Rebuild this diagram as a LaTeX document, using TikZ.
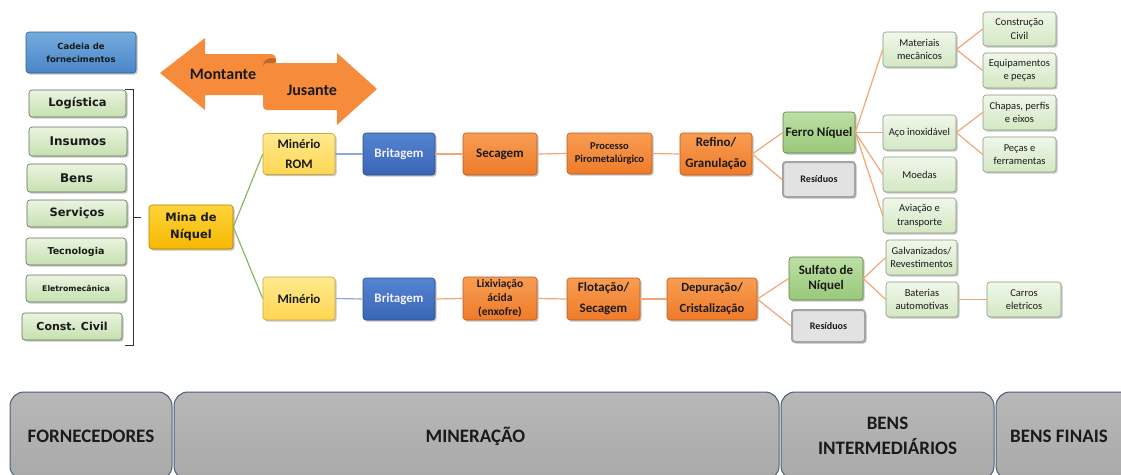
\documentclass[tikz,border=0pt]{standalone}
\usepackage{fontspec}
\setmainfont{Carlito}
\newfontfamily\vfont{DejaVu Sans}
\usetikzlibrary{shadows}

\definecolor{supT}{HTML}{EAF4E0}\definecolor{supB}{HTML}{C6E0B0}\definecolor{supD}{HTML}{5F6F58}
\definecolor{cadT}{HTML}{74ACDF}\definecolor{cadB}{HTML}{4A86C8}\definecolor{cadD}{HTML}{2F5D8C}
\definecolor{minT}{HTML}{FFD43A}\definecolor{minB}{HTML}{F5B800}\definecolor{minD}{HTML}{B08000}
\definecolor{ylT}{HTML}{FFE98E}\definecolor{ylB}{HTML}{FFD652}\definecolor{ylD}{HTML}{C8A840}
\definecolor{blT}{HTML}{5484D2}\definecolor{blB}{HTML}{3A65B6}\definecolor{blD}{HTML}{2A4A88}
\definecolor{orT}{HTML}{F99D52}\definecolor{orB}{HTML}{EE7B2A}\definecolor{orD}{HTML}{B85A1C}
\definecolor{gnT}{HTML}{BDE0A4}\definecolor{gnB}{HTML}{98C87A}\definecolor{gnD}{HTML}{5E7E48}
\definecolor{lgT}{HTML}{F0F7EA}\definecolor{lgB}{HTML}{D3E8C3}\definecolor{lgD}{HTML}{8A9A80}
\definecolor{rsF}{HTML}{E2E2E2}\definecolor{rsD}{HTML}{A4A4A4}
\definecolor{tabT}{HTML}{B8B8B8}\definecolor{tabB}{HTML}{A9A9A9}\definecolor{tabD}{HTML}{4A5E7A}
\definecolor{arrF}{HTML}{F68B3C}\definecolor{arrK}{HTML}{C4662A}
\definecolor{lnG}{HTML}{8DB863}\definecolor{lnB}{HTML}{8FA8DC}\definecolor{lnO}{HTML}{F2A676}
\definecolor{ink}{HTML}{1A1A1A}

\newcommand\fsz[2]{\fontsize{#1}{#2}\selectfont}

\tikzset{
  box/.style={rectangle, rounded corners=3pt, inner sep=0pt, align=center,
    line width=0.6pt, text=ink,
    drop shadow={shadow xshift=1.6pt, shadow yshift=-1.6pt, opacity=0.45}},
  sz/.style 2 args={minimum width=#1pt, minimum height=#2pt},
  supbox/.style={box, top color=supT, bottom color=supB, draw=supD},
  cadbox/.style={box, top color=cadT, bottom color=cadB, draw=cadD,
    font=\vfont\bfseries\fsz{8.5}{13}},
  minabox/.style={box, top color=minT, bottom color=minB, draw=minD,
    font=\vfont\bfseries\fsz{11.5}{17}},
  orebox/.style={box, top color=ylT, bottom color=ylB, draw=ylD,
    font=\bfseries\fsz{13}{20}},
  crushbox/.style={box, top color=blT, bottom color=blB, draw=blD,
    text=white!95!blue, font=\bfseries\fsz{13}{20}},
  procbox/.style={box, top color=orT, bottom color=orB, draw=orD,
    font=\bfseries\fsz{13}{21}},
  prodbox/.style={box, top color=gnT, bottom color=gnB, draw=gnD,
    font=\bfseries\fsz{13}{15}},
  usebox/.style={box, top color=lgT, bottom color=lgB, draw=lgD,
    font=\fsz{10.5}{13.5}},
  wastebox/.style={box, fill=rsF, draw=rsD, line width=2pt,
    font=\bfseries\fsz{10}{12}},
  tabbox/.style={rectangle, rounded corners=14pt, inner sep=0pt, align=center,
    top color=tabT, bottom color=tabB, draw=tabD, line width=1pt,
    text=ink, font=\bfseries\fsz{19}{25}},
  gline/.style={draw=lnG, line width=1.2pt},
  bline/.style={draw=lnB, line width=1.2pt},
  oline/.style={draw=lnO, line width=1.2pt},
}

\begin{document}
\begin{tikzpicture}[x=1pt, y=-1pt]
\useasboundingbox (0,0) rectangle (1121,474);

% ---------- suppliers column ----------
\node[cadbox, sz={110}{41}] (cad) at (81,52.5) {Cadeia de\\fornecimentos};
\node[supbox, sz={97}{27}, font=\vfont\bfseries\fsz{11.5}{13}] (log) at (77.5,103.5) {Logística};
\node[supbox, sz={98}{29}, font=\vfont\bfseries\fsz{12}{13}] (ins) at (78,141.5) {Insumos};
\node[supbox, sz={99}{28}, font=\vfont\bfseries\fsz{12}{13}] (ben) at (76.5,178) {Bens};
\node[supbox, sz={100}{27}, font=\vfont\bfseries\fsz{11.5}{13}] (ser) at (77,213.5) {Serviços};
\node[supbox, sz={100}{27}, font=\vfont\bfseries\fsz{9.5}{12}] (tec) at (76,251.5) {Tecnologia};
\node[supbox, sz={100}{27}, font=\vfont\bfseries\fsz{7.8}{10}] (ele) at (76,288.5) {Eletromecânica};
\node[supbox, sz={100}{27}, font=\vfont\bfseries\fsz{11}{13}] (civ) at (72,326.5) {Const. Civil};

% bracket grouping the suppliers
\coordinate (brT) at (125,89);
\coordinate (brB) at (125,345);
\coordinate (brM) at (141,217);
\draw[black!80, line width=0.8pt] (brT) -- (133,89) -- (133,345) -- (brB);
\draw[black!80, line width=0.8pt] (133,217) -- (brM);

% ---------- upstream / downstream arrows ----------
\fill[arrF] (276,60) .. controls (276,56) and (274,54) .. (270,54) -- (205,54)
  -- (205,38) -- (160,73) -- (205,110) -- (205,95) -- (276,95) -- cycle;
\fill[arrF] (263,66) -- (263,106) .. controls (263,108.5) and (264.5,110) .. (267,110)
  -- (337,110) -- (337,125) -- (377,89) -- (337,53) -- (337,63) -- (270,63)
  .. controls (266,63) and (263,64) .. (263,66) -- cycle;
\fill[arrK] (263,66) .. controls (263,60.5) and (267.5,58) .. (273,58)
  .. controls (276.5,58) and (277,62.5) .. (274,63) -- (269,63)
  .. controls (265.5,63) and (263,64) .. (263,66) -- cycle;
\node[font=\bfseries\fsz{16}{18}, text=ink] (mont) at (223,74) {Montante};
\node[font=\bfseries\fsz{16}{18}, text=ink] (jus) at (312,90) {Jusante};

% ---------- mine ----------
\node[minabox, sz={84}{44}] (mina) at (191,227) {Mina de\\Níquel};

% ---------- pyrometallurgical route ----------
\node[orebox, sz={72}{41}] (romA) at (299,154) {Minério\\ROM};
\node[crushbox, sz={72}{42}] (britA) at (399,154) {Britagem};
\node[procbox, sz={74}{42}] (sec) at (500,154) {Secagem};
\node[procbox, sz={85}{41}, font=\bfseries\fsz{10.5}{13}] (piro) at (609.5,153.5) {Processo\\Pirometalúrgico};
\node[procbox, sz={72}{42}] (ref) at (716,154) {Refino/\\Granulação};
\node[prodbox, sz={72}{41}] (fen) at (819,132.5) {Ferro Níquel};
\node[wastebox, sz={72}{35}] (resA) at (819,179.5) {Resíduos};

% ---------- hydrometallurgical route ----------
\node[orebox, sz={72}{43}] (minB) at (299,298.5) {Minério};
\node[crushbox, sz={72}{42}] (britB) at (399,299) {Britagem};
\node[procbox, sz={74}{43}, font=\bfseries\fsz{11.5}{14}] (lix) at (500,298.5) {Lixiviação\\ácida\\(enxofre)};
\node[procbox, sz={73}{42}] (flo) at (603.5,299) {Flotação/\\Secagem};
\node[procbox, sz={90}{42}, font=\bfseries\fsz{12.5}{21}] (dep) at (712,299) {Depuração/\\Cristalização};
\node[prodbox, sz={74}{43}] (sul) at (826,278.5) {Sulfato de\\Níquel};
\node[wastebox, sz={73}{32}] (resB) at (828.5,326) {Resíduos};

% ---------- uses of ferronickel ----------
\node[usebox, sz={73}{35}] (mat) at (919.5,49.5) {Materiais\\mecânicos};
\node[usebox, sz={73}{34}] (cons) at (1019.5,29) {Construção\\Civil};
\node[usebox, sz={73}{35}] (equ) at (1019.5,70.5) {Equipamentos\\e peças};
\node[usebox, sz={73}{35}] (cha) at (1019.5,112.5) {Chapas, perfis\\e eixos};
\node[usebox, sz={73}{35}] (aco) at (919.5,132.5) {Aço inoxidável};
\node[usebox, sz={73}{35}] (pec) at (1019.5,154.5) {Peças e\\ferramentas};
\node[usebox, sz={73}{35}] (moe) at (919.5,174.5) {Moedas};
\node[usebox, sz={73}{35}] (avi) at (919.5,215.5) {Aviação e\\transporte};

% ---------- uses of nickel sulphate ----------
\node[usebox, sz={71}{35}] (gal) at (921.5,257.5) {Galvanizados/\\Revestimentos};
\node[usebox, sz={72}{35}] (bat) at (922,299.5) {Baterias\\automotivas};
\node[usebox, sz={74}{35}] (car) at (1024,299.5) {Carros\\eletricos};

% ---------- connectors ----------
\path[gline] (mina.east) -- (romA.west);
\path[gline] (mina.east) -- (minB.west);
\path[bline] (romA.east) -- (britA.west);
\path[oline] (britA.east) -- (sec.west);
\path[oline] (sec.east) -- (piro.west);
\path[oline] (piro.east) -- (ref.west);
\path[oline] (ref.east) -- (fen.west);
\path[oline] (ref.east) -- (resA.west);
\path[oline] (fen.east) -- (mat.west);
\path[oline] (fen.east) -- (aco.west);
\path[oline] (fen.east) -- (moe.west);
\path[oline] (fen.east) -- (avi.west);
\path[oline] (mat.east) -- (cons.west);
\path[oline] (mat.east) -- (equ.west);
\path[oline] (aco.east) -- (cha.west);
\path[oline] (aco.east) -- (pec.west);

\path[bline] (minB.east) -- (britB.west);
\path[oline] (britB.east) -- (lix.west);
\path[oline] (lix.east) -- (flo.west);
\path[oline] (flo.east) -- (dep.west);
\path[oline] (dep.east) -- (sul.west);
\path[oline] (dep.east) -- (resB.west);
\path[oline] (sul.east) -- (gal.west);
\path[oline] (sul.east) -- (bat.west);
\path[oline] (bat.east) -- (car.west);

% ---------- stage tabs ----------
\node[tabbox, sz={162}{88}] (forn) at (91,436) {FORNECEDORES};
\node[tabbox, sz={605}{88}] (mine) at (476.5,436) {\hspace*{-2pt}MINERAÇÃO};
\node[tabbox, sz={213}{88}] (inter) at (887.5,436) {BENS\\INTERMEDIÁRIOS};
\node[tabbox, sz={140}{88}] (fin) at (1066,436) {\hspace*{-14pt}BENS FINAIS};
\end{tikzpicture}
\end{document}
